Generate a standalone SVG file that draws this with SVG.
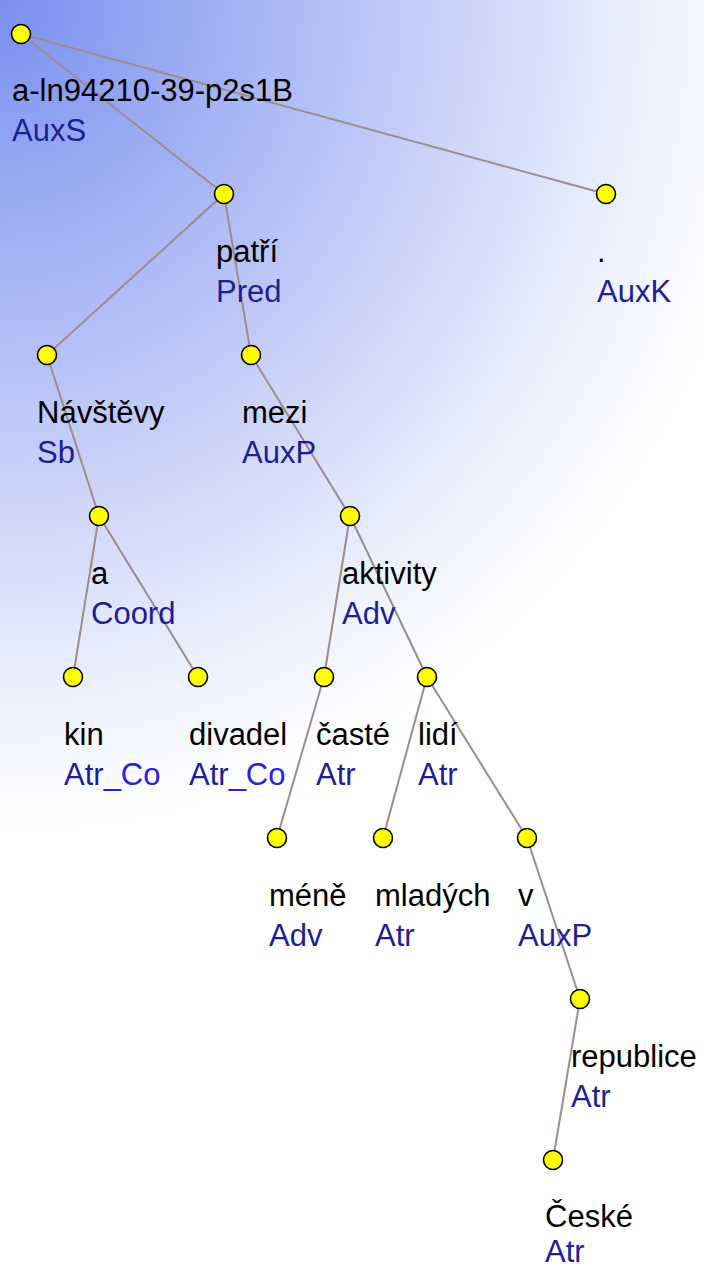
<svg xmlns="http://www.w3.org/2000/svg" width="704" height="1271" viewBox="0 0 704 1271">
<defs>
<radialGradient id="bg" gradientUnits="userSpaceOnUse" cx="0" cy="0" r="830" fx="0" fy="0" gradientTransform="scale(0.93,1)">
<stop offset="0" stop-color="#7a8ff0"/>
<stop offset="0.85" stop-color="#eef1fd"/>
<stop offset="1" stop-color="#ffffff"/>
</radialGradient>
<style>
.e{stroke:#9c8c8c;stroke-width:2;fill:none}
.n{fill:#ffff00;stroke:#000;stroke-width:1.6}
text{font-family:"Liberation Sans",Arial,sans-serif;font-size:31px}
.w{fill:#000}
.f{fill:#1e1e96}
.c{fill:#2424e0}
</style>
</defs>
<rect width="704" height="1271" fill="#ffffff"/>
<rect width="704" height="1271" fill="url(#bg)"/>
<g id="edges">
<line class="e" x1="21" y1="34" x2="224" y2="194"/>
<line class="e" x1="21" y1="34" x2="606" y2="194"/>
<line class="e" x1="224" y1="194" x2="47" y2="355"/>
<line class="e" x1="224" y1="194" x2="251" y2="355"/>
<line class="e" x1="47" y1="355" x2="99" y2="516"/>
<line class="e" x1="251" y1="355" x2="350" y2="516"/>
<line class="e" x1="99" y1="516" x2="73" y2="677"/>
<line class="e" x1="99" y1="516" x2="198" y2="677"/>
<line class="e" x1="350" y1="516" x2="324" y2="677"/>
<line class="e" x1="350" y1="516" x2="427" y2="677"/>
<line class="e" x1="324" y1="677" x2="277" y2="838"/>
<line class="e" x1="427" y1="677" x2="383" y2="838"/>
<line class="e" x1="427" y1="677" x2="527" y2="838"/>
<line class="e" x1="527" y1="838" x2="580" y2="999"/>
<line class="e" x1="580" y1="999" x2="553" y2="1160"/>
</g>
<g id="root"><circle class="n" cx="21" cy="34" r="9.5"/><text class="w" x="12" y="101">a-ln94210-39-p2s1B</text><text class="f" x="12" y="141">AuxS</text></g>
<g id="n-patri"><circle class="n" cx="224" cy="194" r="9.5"/><text class="w" x="216" y="262">patří</text><text class="f" x="216" y="302">Pred</text></g>
<g id="n-dot"><circle class="n" cx="606" cy="194" r="9.5"/><text class="w" x="597" y="262">.</text><text class="f" x="597" y="302">AuxK</text></g>
<g id="n-navstevy"><circle class="n" cx="47" cy="355" r="9.5"/><text class="w" x="37" y="423">Návštěvy</text><text class="f" x="37" y="463">Sb</text></g>
<g id="n-mezi"><circle class="n" cx="251" cy="355" r="9.5"/><text class="w" x="242" y="423">mezi</text><text class="f" x="242" y="463">AuxP</text></g>
<g id="n-a"><circle class="n" cx="99" cy="516" r="9.5"/><text class="w" x="91" y="584">a</text><text class="f" x="91" y="624">Coord</text></g>
<g id="n-aktivity"><circle class="n" cx="350" cy="516" r="9.5"/><text class="w" x="342" y="584">aktivity</text><text class="f" x="342" y="624">Adv</text></g>
<g id="n-kin"><circle class="n" cx="73" cy="677" r="9.5"/><text class="w" x="64" y="745">kin</text><text class="f" x="64" y="785">Atr<tspan class="c">_Co</tspan></text></g>
<g id="n-divadel"><circle class="n" cx="198" cy="677" r="9.5"/><text class="w" x="189" y="745">divadel</text><text class="f" x="189" y="785">Atr<tspan class="c">_Co</tspan></text></g>
<g id="n-caste"><circle class="n" cx="324" cy="677" r="9.5"/><text class="w" x="316" y="745">časté</text><text class="f" x="316" y="785">Atr</text></g>
<g id="n-lidi"><circle class="n" cx="427" cy="677" r="9.5"/><text class="w" x="418" y="745">lidí</text><text class="f" x="418" y="785">Atr</text></g>
<g id="n-mene"><circle class="n" cx="277" cy="838" r="9.5"/><text class="w" x="269" y="906">méně</text><text class="f" x="269" y="946">Adv</text></g>
<g id="n-mladych"><circle class="n" cx="383" cy="838" r="9.5"/><text class="w" x="375" y="906">mladých</text><text class="f" x="375" y="946">Atr</text></g>
<g id="n-v"><circle class="n" cx="527" cy="838" r="9.5"/><text class="w" x="518" y="906">v</text><text class="f" x="518" y="946">AuxP</text></g>
<g id="n-republice"><circle class="n" cx="580" cy="999" r="9.5"/><text class="w" x="571" y="1067">republice</text><text class="f" x="571" y="1107">Atr</text></g>
<g id="n-ceske"><circle class="n" cx="553" cy="1160" r="9.5"/><text class="w" x="545" y="1227">České</text><text class="f" x="545" y="1262">Atr</text></g>
</svg>
